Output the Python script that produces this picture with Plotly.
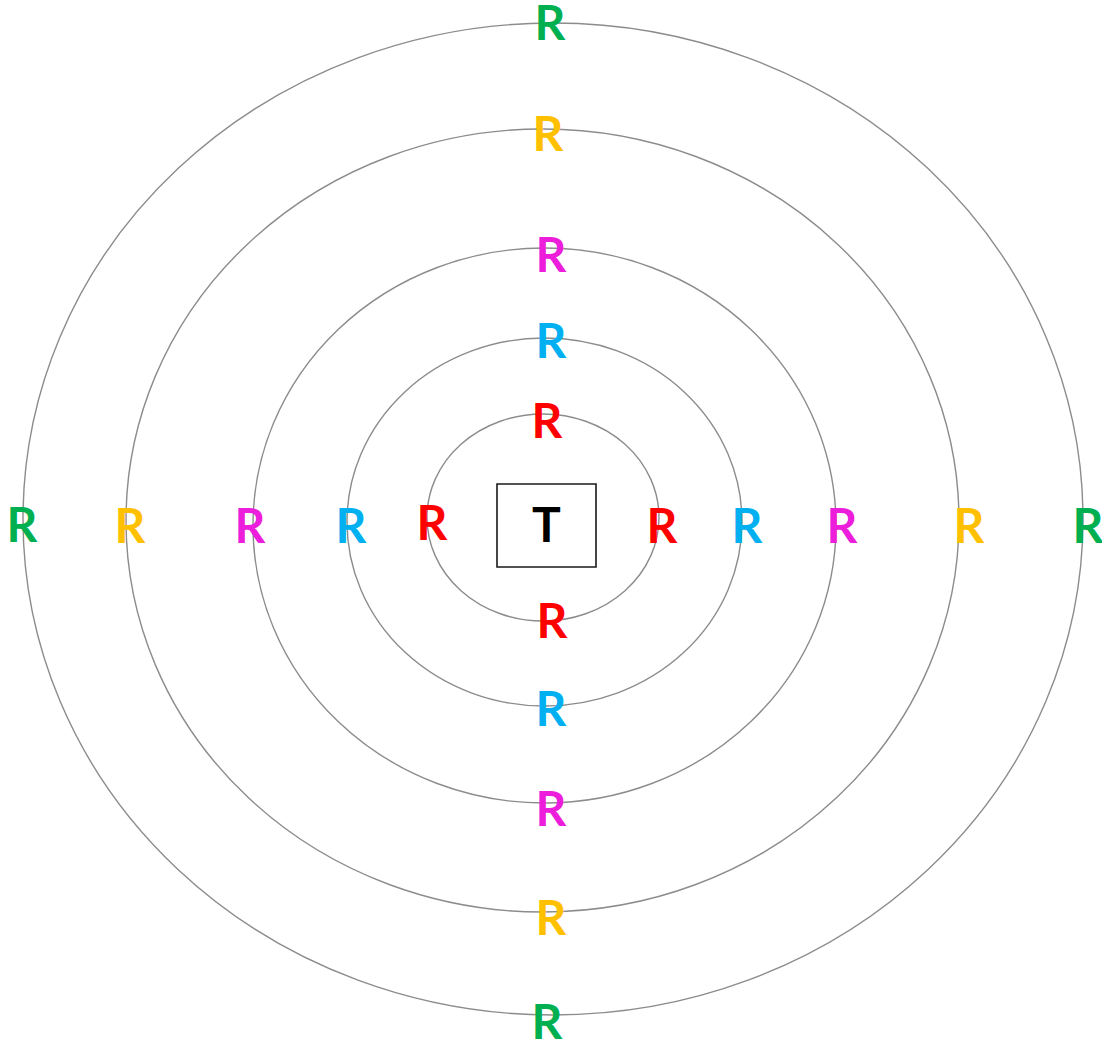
import plotly.graph_objects as go

# ring extents (pixel coordinates of the picture, y grows downward)
ring_left = [427, 347, 253, 126, 23]
ring_right = [659, 742, 836, 959, 1083]
ring_top = [414, 338, 248, 129, 23]
ring_bottom = [621, 706, 803, 912, 1015]
ring_colors = ["#FF0000", "#00B0F0", "#EC1EDB", "#FFC000", "#00B050"]

# label centres for each ring: top, bottom, left, right
label_x = [
    [547, 552, 432, 662],
    [551, 551, 351, 747],
    [551, 551, 250, 842],
    [548, 551, 130, 969],
    [550, 547, 22, 1088],
]
label_y = [
    [426, 626, 528, 531],
    [346, 714, 531, 531],
    [260, 814, 531, 531],
    [139, 923, 531, 531],
    [28, 1027, 530, 531],
]

# centre box with "T"
box_x = [497, 596]
box_y = [484, 567]
center_label = "T"

W, H = 1102, 1043
FONT = "Lato, 'Open Sans', sans-serif"

fig = go.Figure()

for i in range(len(ring_left)):
    fig.add_shape(
        type="circle", xref="x", yref="y",
        x0=ring_left[i], x1=ring_right[i], y0=ring_top[i], y1=ring_bottom[i],
        line=dict(color="#8C8C8C", width=1.4), layer="below",
    )

fig.add_shape(
    type="rect", xref="x", yref="y",
    x0=box_x[0], x1=box_x[1], y0=box_y[0], y1=box_y[1],
    line=dict(color="#1A1A1A", width=1.6), fillcolor="white", layer="below",
)

for i, col in enumerate(ring_colors):
    fig.add_trace(go.Scatter(
        x=label_x[i], y=label_y[i], mode="text", text=["R"] * len(label_x[i]),
        textposition="middle center", cliponaxis=False,
        textfont=dict(family=FONT, size=48, color=col, weight="bold"),
        hoverinfo="skip", showlegend=False,
    ))

fig.add_trace(go.Scatter(
    x=[(box_x[0] + box_x[1]) / 2], y=[(box_y[0] + box_y[1]) / 2 + 4],
    mode="text", text=[center_label], textposition="middle center",
    textfont=dict(family=FONT, size=48, color="black", weight="bold"),
    hoverinfo="skip", showlegend=False,
))

fig.update_xaxes(range=[0, W], visible=False, fixedrange=True)
fig.update_yaxes(range=[H, 0], visible=False, fixedrange=True)
fig.update_layout(
    width=W, height=H,
    margin=dict(l=0, r=0, t=0, b=0),
    paper_bgcolor="white", plot_bgcolor="white",
    showlegend=False,
)

# drop the browser's default body margin so the figure fills the window
fig.write_html(
    "out.html",
    config={"displayModeBar": False},
    post_script="document.body.style.margin='0';",
)
